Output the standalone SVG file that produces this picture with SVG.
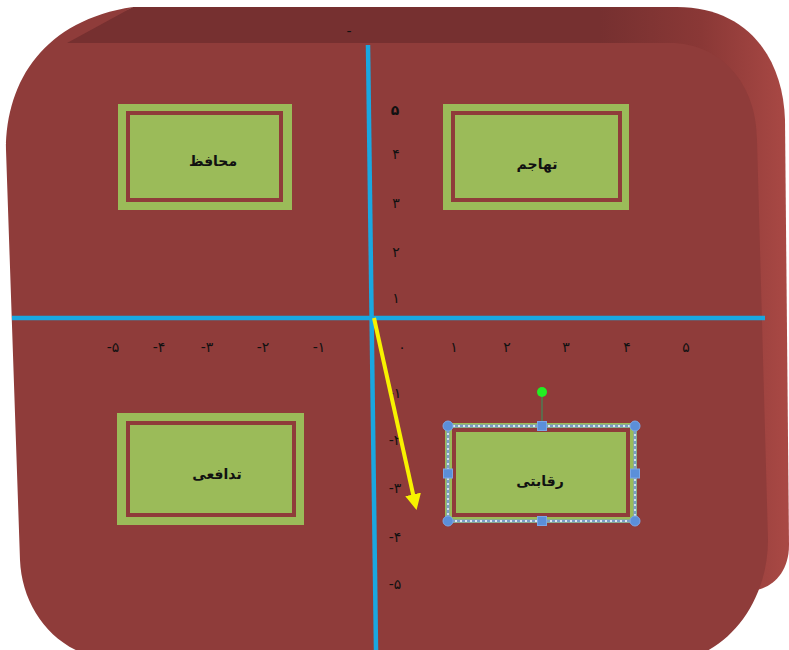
<svg xmlns="http://www.w3.org/2000/svg" width="789" height="650" viewBox="0 0 789 650">
<defs>
<linearGradient id="sideG" gradientUnits="userSpaceOnUse" x1="600" y1="0" x2="785" y2="0">
<stop offset="0" stop-color="#763030"/>
<stop offset="0.55" stop-color="#8a3836"/>
<stop offset="1" stop-color="#a84844"/>
</linearGradient>
<marker id="ah" markerWidth="4" markerHeight="4" refX="2.2" refY="2" orient="auto" markerUnits="strokeWidth">
<path d="M0,0 L4,2 L0,4 Z" fill="#f7f200"/>
</marker>
<style>
.face{fill:#8f3c3a}
.outer{fill:#9bbb59}
.inner{fill:#9bbb59;stroke:#8f3c3a;stroke-width:4}
.lbl{font-family:"DejaVu Sans",sans-serif;font-size:14px;font-weight:bold;fill:#111;text-anchor:middle;dominant-baseline:central}
.num{font-family:"DejaVu Sans",sans-serif;font-size:14px;fill:#111;text-anchor:middle;dominant-baseline:central}
.axis{stroke:#1aa7e0;stroke-width:4.5;fill:none}
.hc{fill:#5b8fd9;stroke:#7aa6e6;stroke-width:1}
</style>
</defs>
<g id="board">
<path d="M133,7 L677,7 C745,7 783,55 785,120 L789,545 C789,570 775,586 757,590 L300,590 L60,300 L60,40 Z" fill="url(#sideG)"/>
<path class="face" d="M67,43 L670,43 C722,43 757,85 757,140 L768,540 C768,600 730,652 680,660 L120,660 C60,660 22,612 20,560 L6,150 C6,80 45,20 133,7 Z"/>
<text x="349" y="31" class="num" font-size="10">-</text>
</g>
<g id="axes">
<line class="axis" x1="12" y1="318" x2="765" y2="318"/>
<line class="axis" x1="368" y1="45" x2="376" y2="650"/>
<g id="yticks">
<text class="num" x="395" y="110" font-size="17" font-weight="bold">۵</text>
<text class="num" x="396" y="154">۴</text>
<text class="num" x="396" y="203">۳</text>
<text class="num" x="396" y="252">۲</text>
<text class="num" x="396" y="298">۱</text>
<text class="num" x="395" y="393">-۱</text>
<text class="num" x="395" y="440">-۲</text>
<text class="num" x="395" y="488">-۳</text>
<text class="num" x="395" y="537">-۴</text>
<text class="num" x="395" y="584">-۵</text>
</g>
<g id="xticks">
<text class="num" x="113" y="347">-۵</text>
<text class="num" x="159" y="347">-۴</text>
<text class="num" x="207" y="347">-۳</text>
<text class="num" x="263" y="347">-۲</text>
<text class="num" x="319" y="347">-۱</text>
<text class="num" x="402" y="347">۰</text>
<text class="num" x="454" y="347">۱</text>
<text class="num" x="507" y="347">۲</text>
<text class="num" x="566" y="347">۳</text>
<text class="num" x="627" y="347">۴</text>
<text class="num" x="686" y="347">۵</text>
</g>
</g>
<g id="connectors">
<line x1="374" y1="318" x2="415" y2="503" stroke="#f7f200" stroke-width="4" marker-end="url(#ah)"/>
</g>
<g id="node-mohafez">
<rect class="outer" x="118" y="104" width="174" height="106"/>
<rect class="inner" x="128" y="113" width="153" height="87"/>
<text class="lbl" x="213" y="161">محافظ</text>
</g>
<g id="node-tahajom">
<rect class="outer" x="443" y="104" width="186" height="106"/>
<rect class="inner" x="453" y="113" width="167" height="87"/>
<text class="lbl" x="537" y="164">تهاجم</text>
</g>
<g id="node-tadafoei">
<rect class="outer" x="117" y="413" width="187" height="112"/>
<rect class="inner" x="128" y="423" width="166" height="92"/>
<text class="lbl" x="217" y="474">تدافعی</text>
</g>
<g id="node-reghabati">
<rect class="outer" x="445" y="423" width="192" height="100"/>
<rect class="inner" x="454" y="430" width="174" height="85"/>
<text class="lbl" x="540" y="481">رقابتی</text>
<g id="selection">
<line x1="542" y1="396" x2="542" y2="423" stroke="#3f8a5a" stroke-width="1.2"/>
<circle cx="542" cy="392" r="5" fill="#22ee22"/>
<rect x="448" y="426" width="187" height="95" fill="none" stroke="#7b9dc8" stroke-width="3"/>
<rect x="448" y="426" width="187" height="95" fill="none" stroke="#ffffff" stroke-width="1.3" stroke-dasharray="2 3"/>
<circle class="hc" cx="448" cy="426" r="5"/>
<circle class="hc" cx="635" cy="426" r="5"/>
<circle class="hc" cx="448" cy="521" r="5"/>
<circle class="hc" cx="635" cy="521" r="5"/>
<rect class="hc" x="537.5" y="421.5" width="9" height="9"/>
<rect class="hc" x="537.5" y="516.5" width="9" height="9"/>
<rect class="hc" x="443.5" y="469" width="9" height="9"/>
<rect class="hc" x="630.5" y="469" width="9" height="9"/>
</g>
</g>
</svg>
